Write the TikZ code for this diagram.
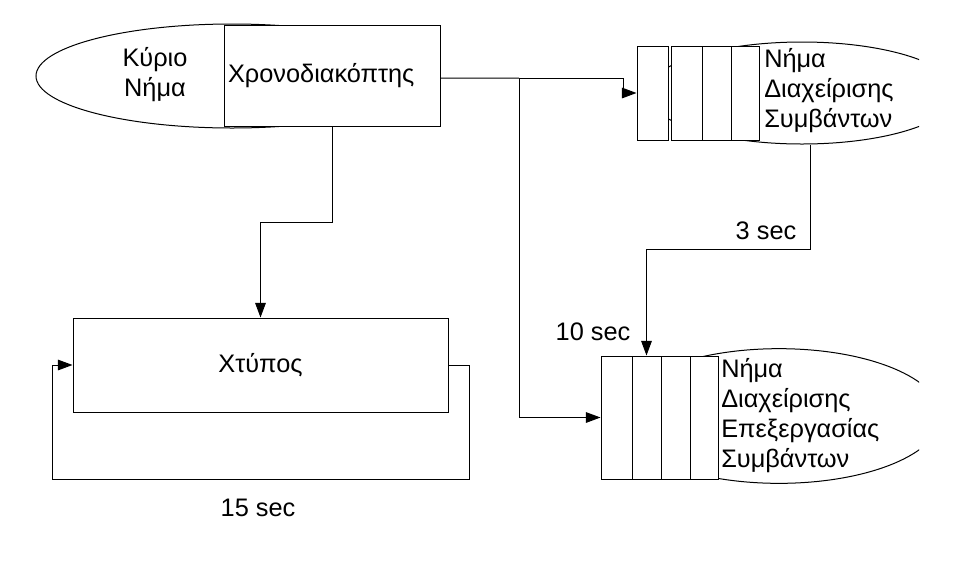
\documentclass[tikz,border=0pt]{standalone}
\usepackage{fontspec}
\setmainfont{Liberation Sans}
\usetikzlibrary{shapes.geometric,arrows.meta}
\begin{document}
\begin{tikzpicture}[x=0.75pt,y=-0.75pt,
  every node/.style={font=\fontsize{19pt}{22.5pt}\selectfont},
  line/.style={line width=0.75pt,black},
  box/.style={line, draw, fill=white, rectangle, inner sep=0pt},
  cell/.style={box, minimum height=#1},
  oval/.style={line, draw, fill=white, ellipse, inner sep=0pt},
  arr/.style={line, -{Triangle[length=11pt,width=8pt]}},
  lbl/.style={inner sep=0pt}]
\useasboundingbox (0,0) rectangle (960,576);

% main thread ellipse and timer box
\node[oval, minimum width=294pt, minimum height=78pt] (e0) at (232,76) {};
\node[lbl, align=center] (main) at (155,75) {Κύριο\\Νήμα};
\node[box, minimum width=162pt, minimum height=75.75pt, text width=156pt,
      inner xsep=3pt, align=left] (timer) at (332,75.5) {Χρονοδιακόπτης};

% right ellipses (clipped)
\begin{scope}
\clip (0,0) rectangle (919,576);
\node[oval, minimum width=232.5pt, minimum height=76.5pt] (e1) at (802,93) {};
\node[oval, minimum width=243pt, minimum height=101pt] (e2) at (779,416) {};
\end{scope}

% top queue
\node[cell=70.5pt, minimum width=23.25pt] (q1a) at (652.5,93) {};
\node[cell=70.5pt, minimum width=23.25pt] (q1b) at (686.5,93) {};
\node[cell=70.5pt, minimum width=21.75pt] (q1c) at (716.5,93) {};
\node[cell=70.5pt, minimum width=21pt] (q1d) at (745,93) {};
\node[lbl, anchor=west, align=left] (t1) at (764,91) {Νήμα\\Διαχείρισης\\Συμβάντων};

% bottom queue
\node[cell=92.25pt, minimum width=23.25pt] (q2a) at (616.5,417.5) {};
\node[cell=92.25pt, minimum width=21.75pt] (q2b) at (646.5,417.5) {};
\node[cell=92.25pt, minimum width=21.75pt] (q2c) at (675.5,417.5) {};
\node[cell=92.25pt, minimum width=21pt] (q2d) at (704,417.5) {};
\node[lbl, anchor=west, align=left] (t2) at (721,416) {Νήμα\\Διαχείρισης\\Επεξεργασίας\\Συμβάντων};

% tick box
\node[box, minimum width=281.25pt, minimum height=70.5pt] (hit) at (260.5,365) {Χτύπος};

% connectors
\draw[line] ([yshift=-2pt]timer.east) -- (519,78) coordinate (split);
\draw[arr] (split) -- (623,78) -- (623,93) -- (q1a.west);
\draw[arr] (split) -- (519,417.5) -- (q2a.west);
\draw[arr] ([xshift=6pt]e1.south) -- ++(0,105) -| (q2b.north);
\draw[arr] (timer.south) -- ++(0,96) -| (hit.north);
\draw[arr] (hit.east) -- ++(21,0) -- ++(0,114) -- ++(-417,0) -- ++(0,-114) -- (hit.west);

% labels
\node[lbl] (l3) at (766,231) {3 sec};
\node[lbl] (l10) at (593,332) {10 sec};
\node[lbl] (l15) at (258,508) {15 sec};
\end{tikzpicture}
\end{document}
